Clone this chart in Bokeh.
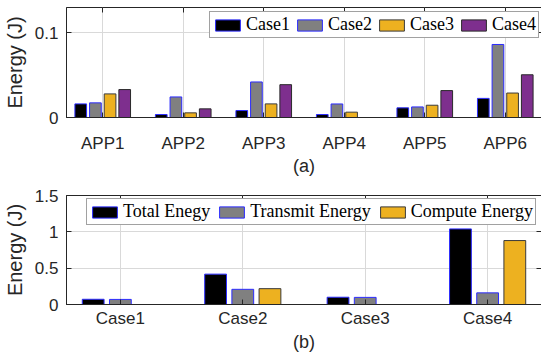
from bokeh.plotting import figure
from bokeh.models import (ColumnDataSource, FactorRange, Range1d, LinearAxis,
                          CategoricalAxis, FixedTicker, NumeralTickFormatter)
from bokeh.transform import dodge
from bokeh.layouts import column
from bokeh.embed import file_html
from bokeh.resources import INLINE

# ---------------- data (a) ----------------
apps = ["APP1", "APP2", "APP3", "APP4", "APP5", "APP6"]
case1 = [0.0161, 0.0035, 0.0082, 0.0035, 0.0114, 0.0226]
case2 = [0.0173, 0.0243, 0.0420, 0.0160, 0.0125, 0.0863]
case3 = [0.0279, 0.0055, 0.0161, 0.0063, 0.0145, 0.0289]
case4 = [0.0330, 0.0102, 0.0388, 0.0000, 0.0318, 0.0505]
legend_a = ["Case1", "Case2", "Case3", "Case4"]
yticks_a = [0, 0.1]

# ---------------- data (b) ----------------
cases = ["Case1", "Case2", "Case3", "Case4"]
total_energy = [0.072, 0.418, 0.100, 1.040]
transmit_energy = [0.070, 0.209, 0.098, 0.160]
compute_energy = [0.000, 0.218, 0.000, 0.880]
legend_b = ["Total Enegy", "Transmit Energy", "Compute Energy"]
yticks_b = [0, 0.5, 1, 1.5]

FONT = "Liberation Sans"
SERIF = "Liberation Serif"
DARK = "#262626"
GRID = "#d9d9d9"
BLUE = "#2b2bff"


def style(p, yticks, xlabel, x_standoff, x_label_standoff):
    p.outline_line_color = DARK
    p.outline_line_width = 1
    p.xgrid.grid_line_color = GRID
    p.ygrid.grid_line_color = GRID
    p.ygrid.ticker = FixedTicker(ticks=yticks)
    for ax in p.axis:
        ax.axis_line_color = DARK
        ax.major_tick_line_color = DARK
        ax.major_tick_in = 5
        ax.major_tick_out = 0
        ax.minor_tick_line_color = None
        ax.major_label_text_font = FONT
        ax.major_label_text_font_size = "17px"
        ax.major_label_text_color = DARK
        ax.axis_label_text_font = FONT
        ax.axis_label_text_font_size = "20px"
        ax.axis_label_text_font_style = "normal"
        ax.axis_label_text_color = DARK
    yax = p.left[0]
    yax.ticker = FixedTicker(ticks=yticks)
    yax.formatter = NumeralTickFormatter(format="0.[0]")
    yax.axis_label = "Energy (J)"
    yax.major_label_standoff = 8
    yax.axis_label_standoff = 6
    xax = p.below[0]
    xax.axis_label = xlabel
    xax.axis_label_text_font_size = "18px"
    xax.major_label_standoff = x_standoff
    xax.axis_label_standoff = x_label_standoff
    # box ticks on the right and top (no labels)
    r = LinearAxis(ticker=FixedTicker(ticks=yticks), major_label_text_font_size="1px",
                   major_label_text_color=None, major_label_standoff=0,
                   major_tick_in=5, major_tick_out=0,
                   minor_tick_line_color=None, axis_line_color=None,
                   major_tick_line_color=DARK)
    p.add_layout(r, "right")
    t = CategoricalAxis(major_label_text_font_size="1px", major_label_text_color=None,
                        major_label_standoff=0, major_tick_in=5, major_tick_out=0,
                        axis_line_color=None, major_tick_line_color=DARK)
    p.add_layout(t, "above")


def style_legend(p, loc, spacing):
    lg = p.legend[0]
    lg.location = loc
    lg.orientation = "horizontal"
    lg.label_text_font = SERIF
    lg.label_text_font_size = "18px"
    lg.label_text_color = "#000000"
    lg.glyph_width = 31
    lg.glyph_height = 14
    lg.label_standoff = 3
    lg.spacing = spacing
    lg.padding = 2
    lg.margin = 0
    lg.border_line_color = "#444444"
    lg.border_line_width = 1
    lg.background_fill_alpha = 1.0


# ---------------- figure (a) ----------------
src_a = ColumnDataSource(dict(apps=apps, case1=case1, case2=case2, case3=case3, case4=case4))
pa = figure(x_range=FactorRange(*apps, range_padding=-0.05, range_padding_units="absolute"),
            y_range=Range1d(0, 0.13), frame_width=475, frame_height=110,
            min_border_left=65, min_border_right=1, min_border_top=7, min_border_bottom=0,
            output_backend="svg", toolbar_location=None)
w4 = 0.145
offs4 = [-0.273, -0.091, 0.091, 0.273]
fills_a = ["#000000", "#808080", "#EDB120", "#7E2F8E"]
lines_a = [BLUE, BLUE, "#3a3a3a", "#2a2a2a"]
for key, off, fc, lc, lab in zip(["case1", "case2", "case3", "case4"], offs4, fills_a, lines_a, legend_a):
    pa.vbar(x=dodge("apps", off, range=pa.x_range), top=key, width=w4, source=src_a,
            fill_color=fc, line_color=lc, line_width=1, legend_label=lab)
style(pa, yticks_a, "(a)", 16, 0)
style_legend(pa, (143, 79), 4)

# ---------------- figure (b) ----------------
src_b = ColumnDataSource(dict(cases=cases, total=total_energy, transmit=transmit_energy,
                              compute=compute_energy))
pb = figure(x_range=FactorRange(*cases, range_padding=-0.06, range_padding_units="absolute"),
            y_range=Range1d(0, 1.5), frame_width=475, frame_height=109,
            min_border_left=65, min_border_right=1, min_border_top=17, min_border_bottom=0,
            output_backend="svg", toolbar_location=None)
w3 = 0.178
offs3 = [-0.222, 0.0, 0.222]
fills_b = ["#000000", "#808080", "#EDB120"]
lines_b = [BLUE, BLUE, "#3a3a3a"]
for key, off, fc, lc, lab in zip(["total", "transmit", "compute"], offs3, fills_b, lines_b, legend_b):
    pb.vbar(x=dodge("cases", off, range=pb.x_range), top=key, width=w3, source=src_b,
            fill_color=fc, line_color=lc, line_width=1, legend_label=lab)
style(pb, yticks_b, "(b)", 4, 1)
style_legend(pb, (20, 79), 6)

layout = column(pa, pb, spacing=0)
open("out.html", "w").write(file_html(layout, INLINE))
